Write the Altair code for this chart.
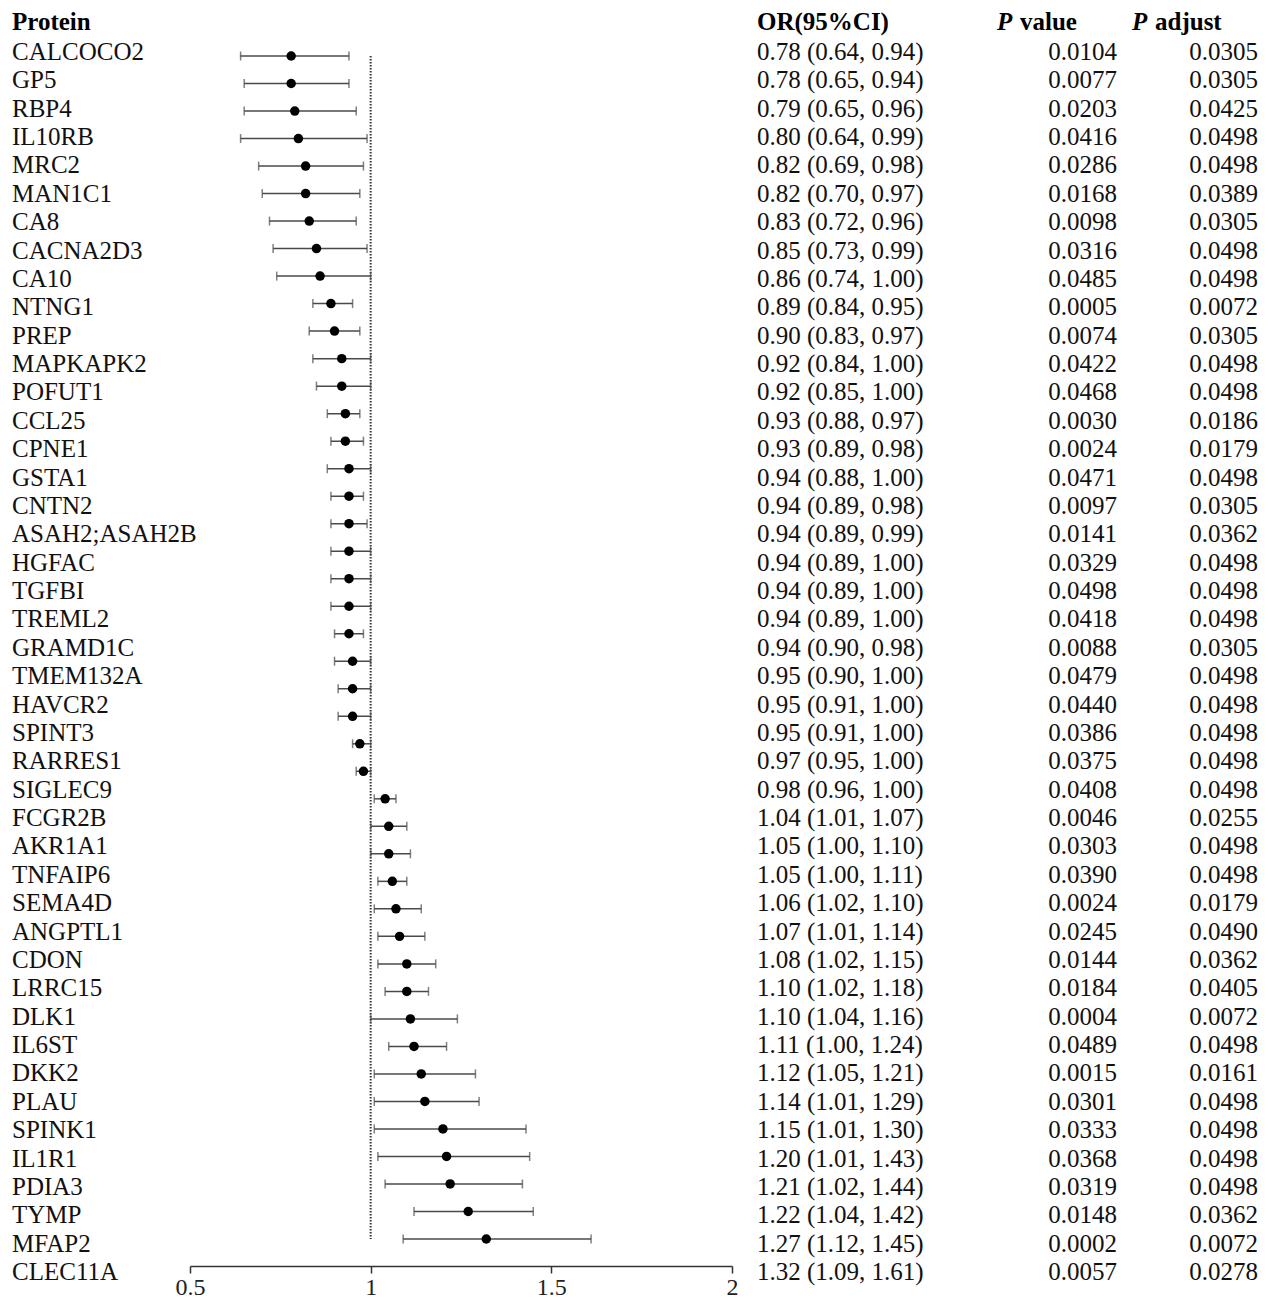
import altair as alt
import pandas as pd

proteins = ["CALCOCO2", "GP5", "RBP4", "IL10RB", "MRC2", "MAN1C1", "CA8", "CACNA2D3", "CA10", "NTNG1",
            "PREP", "MAPKAPK2", "POFUT1", "CCL25", "CPNE1", "GSTA1", "CNTN2", "ASAH2;ASAH2B", "HGFAC", "TGFBI",
            "TREML2", "GRAMD1C", "TMEM132A", "HAVCR2", "SPINT3", "RARRES1", "SIGLEC9", "FCGR2B", "AKR1A1", "TNFAIP6",
            "SEMA4D", "ANGPTL1", "CDON", "LRRC15", "DLK1", "IL6ST", "DKK2", "PLAU", "SPINK1", "IL1R1",
            "PDIA3", "TYMP", "MFAP2", "CLEC11A"]
or_vals = [0.78, 0.78, 0.79, 0.80, 0.82, 0.82, 0.83, 0.85, 0.86, 0.89,
           0.90, 0.92, 0.92, 0.93, 0.93, 0.94, 0.94, 0.94, 0.94, 0.94,
           0.94, 0.94, 0.95, 0.95, 0.95, 0.97, 0.98, 1.04, 1.05, 1.05,
           1.06, 1.07, 1.08, 1.10, 1.10, 1.11, 1.12, 1.14, 1.15, 1.20,
           1.21, 1.22, 1.27, 1.32]
ci_low = [0.64, 0.65, 0.65, 0.64, 0.69, 0.70, 0.72, 0.73, 0.74, 0.84,
          0.83, 0.84, 0.85, 0.88, 0.89, 0.88, 0.89, 0.89, 0.89, 0.89,
          0.89, 0.90, 0.90, 0.91, 0.91, 0.95, 0.96, 1.01, 1.00, 1.00,
          1.02, 1.01, 1.02, 1.02, 1.04, 1.00, 1.05, 1.01, 1.01, 1.01,
          1.02, 1.04, 1.12, 1.09]
ci_high = [0.94, 0.94, 0.96, 0.99, 0.98, 0.97, 0.96, 0.99, 1.00, 0.95,
           0.97, 1.00, 1.00, 0.97, 0.98, 1.00, 0.98, 0.99, 1.00, 1.00,
           1.00, 0.98, 1.00, 1.00, 1.00, 1.00, 1.00, 1.07, 1.10, 1.11,
           1.10, 1.14, 1.15, 1.18, 1.16, 1.24, 1.21, 1.29, 1.30, 1.43,
           1.44, 1.42, 1.45, 1.61]
p_values = [0.0104, 0.0077, 0.0203, 0.0416, 0.0286, 0.0168, 0.0098, 0.0316, 0.0485, 0.0005,
            0.0074, 0.0422, 0.0468, 0.0030, 0.0024, 0.0471, 0.0097, 0.0141, 0.0329, 0.0498,
            0.0418, 0.0088, 0.0479, 0.0440, 0.0386, 0.0375, 0.0408, 0.0046, 0.0303, 0.0390,
            0.0024, 0.0245, 0.0144, 0.0184, 0.0004, 0.0489, 0.0015, 0.0301, 0.0333, 0.0368,
            0.0319, 0.0148, 0.0002, 0.0057]
p_adjust = [0.0305, 0.0305, 0.0425, 0.0498, 0.0498, 0.0389, 0.0305, 0.0498, 0.0498, 0.0072,
            0.0305, 0.0498, 0.0498, 0.0186, 0.0179, 0.0498, 0.0305, 0.0362, 0.0498, 0.0498,
            0.0498, 0.0305, 0.0498, 0.0498, 0.0498, 0.0498, 0.0498, 0.0255, 0.0498, 0.0498,
            0.0179, 0.0490, 0.0362, 0.0405, 0.0072, 0.0498, 0.0161, 0.0498, 0.0498, 0.0498,
            0.0498, 0.0362, 0.0072, 0.0278]
x_ticks = [0.5, 1, 1.5, 2]
ref_value = 1.0

df = pd.DataFrame({
    "protein": proteins,
    "or": or_vals,
    "low": ci_low,
    "high": ci_high,
    "p_value": p_values,
    "p_adjust": p_adjust,
})
df["or_text"] = [f"{o:.2f} ({l:.2f}, {h:.2f})" for o, l, h in zip(or_vals, ci_low, ci_high)]

FONT = "Liberation Serif"
TXT = "#111111"
FS = 25

x_scale = alt.Scale(domain=[0.5, 2], range=[182, 724], nice=False, zero=False)
x_axis = alt.Axis(values=x_ticks, format="~g", title=None, grid=False)


def fx(field):
    return alt.X(f"{field}:Q", scale=x_scale, axis=x_axis)


y_forest_scale = alt.Scale(type="point", domain=proteins, range=[48, 1231], padding=0)
y_forest = alt.Y("protein:N", scale=y_forest_scale, axis=None)

base = alt.Chart(df)

ref_df = pd.DataFrame({"ref": [ref_value], "top": [proteins[0]], "bottom": [proteins[-1]]})
ref_line = alt.Chart(ref_df).mark_rule(color="#333", strokeWidth=2, strokeDash=[1.6, 1.4]).encode(
    x=fx("ref"),
    y=alt.Y("top:N", scale=y_forest_scale, axis=None),
    y2=alt.Y2("bottom"),
)
bars = base.mark_rule(color="#4a4a4a", strokeWidth=1.5).encode(x=fx("low"), x2=alt.X2("high"), y=y_forest)
cap_lo = base.mark_tick(orient="vertical", color="#4a4a4a", size=9, thickness=1.5).encode(x=fx("low"), y=y_forest)
cap_hi = base.mark_tick(orient="vertical", color="#4a4a4a", size=9, thickness=1.5).encode(x=fx("high"), y=y_forest)
points = base.mark_point(filled=True, shape="circle", size=90, color="black", opacity=1).encode(
    x=fx("or"), y=y_forest)

forest = alt.layer(ref_line, bars, cap_lo, cap_hi, points)

y_text = alt.Y("protein:N", scale=alt.Scale(type="point", domain=proteins, range=[44, 1264], padding=0), axis=None)

names = base.mark_text(align="left", baseline="middle", font=FONT, fontSize=FS, color=TXT).encode(
    x=alt.value(4), y=y_text, text="protein:N")
or_col = base.mark_text(align="left", baseline="middle", font=FONT, fontSize=FS, color=TXT).encode(
    x=alt.value(749), y=y_text, text="or_text:N")
pv_col = base.mark_text(align="right", baseline="middle", font=FONT, fontSize=FS, color=TXT).encode(
    x=alt.value(1109), y=y_text, text=alt.Text("p_value:Q", format=".4f"))
pa_col = base.mark_text(align="right", baseline="middle", font=FONT, fontSize=FS, color=TXT).encode(
    x=alt.value(1250), y=y_text, text=alt.Text("p_adjust:Q", format=".4f"))

one = pd.DataFrame({"k": [0]})


def header(text, x, italic=False):
    return alt.Chart(one).mark_text(
        align="left", baseline="middle", font=FONT, fontSize=FS, fontWeight="bold",
        fontStyle="italic" if italic else "normal", color="#000", text=text
    ).encode(x=alt.value(x), y=alt.value(14))


texts = alt.layer(
    names, or_col, pv_col, pa_col,
    header("Protein", 4),
    header("OR(95%CI)", 749),
    header("P", 989, italic=True),
    header("value", 1012),
    header("P", 1124, italic=True),
    header("adjust", 1147),
)

chart = alt.layer(forest, texts).resolve_scale(y="independent").properties(
    width=1253,
    height=1258,
    autosize=alt.AutoSizeParams(type="none"),
    padding={"left": 0, "top": 0, "right": 0, "bottom": 36},
).configure_view(stroke=None).configure_axis(
    tickSize=7, tickWidth=1.5, domainWidth=1.5, domainColor="#333", tickColor="#333",
    labelFont=FONT, labelFontSize=24, labelColor="#222", labelPadding=2, labelFlush=False,
)

chart.save("out.html", embed_options={"renderer": "svg", "actions": False})
